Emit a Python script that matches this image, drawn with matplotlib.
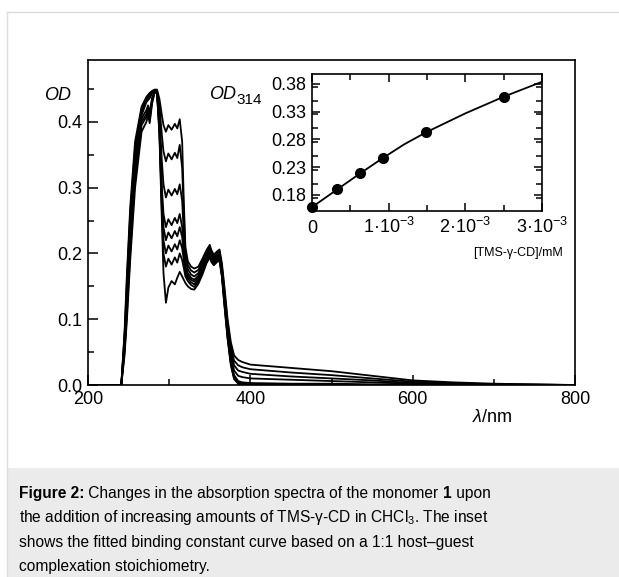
import matplotlib
matplotlib.use('Agg')
import matplotlib.pyplot as plt
from matplotlib.patches import Rectangle
from matplotlib.lines import Line2D
from matplotlib.ticker import MultipleLocator

plt.rcParams['font.family'] = 'Liberation Sans'
plt.rcParams['mathtext.fontset'] = 'custom'
plt.rcParams['mathtext.rm'] = 'Liberation Sans'
plt.rcParams['mathtext.it'] = 'Liberation Sans:italic'
plt.rcParams['mathtext.bf'] = 'Liberation Sans:bold'
plt.rcParams['mathtext.default'] = 'regular'

#%%
# --> Data
wavelength = [200, 241, 245, 248, 252, 258, 266, 272, 274, 276, 279, 282, 285, 288, 291,
              293, 296, 299, 303, 307, 310, 313, 316, 318, 320, 323, 327, 331, 336, 341,
              346, 350, 352, 355, 359, 362, 365, 368, 372, 376, 380, 385, 390, 400, 450,
              500, 550, 600, 650, 700, 800]

od_a = [0, 0, 0.08, 0.17, 0.27, 0.37, 0.423, 0.438, 0.441, 0.444, 0.447, 0.449, 0.449, 0.435, 0.41,
        0.395, 0.385, 0.395, 0.388, 0.397, 0.39, 0.404, 0.37, 0.28, 0.21, 0.188, 0.18, 0.177, 0.18, 0.192,
        0.205, 0.213, 0.205, 0.198, 0.203, 0.206, 0.185, 0.15, 0.1, 0.065, 0.045, 0.038, 0.035, 0.031, 0.026,
        0.021, 0.014, 0.007, 0.004, 0.002, 0.0]
od_b = [0, 0, 0.075, 0.16, 0.26, 0.362, 0.42, 0.436, 0.439, 0.442, 0.446, 0.448, 0.448, 0.425, 0.38,
        0.355, 0.34, 0.352, 0.343, 0.353, 0.345, 0.365, 0.33, 0.26, 0.2, 0.182, 0.174, 0.171, 0.175, 0.188,
        0.202, 0.21, 0.202, 0.195, 0.2, 0.203, 0.18, 0.145, 0.093, 0.058, 0.037, 0.03, 0.027, 0.024, 0.019,
        0.015, 0.01, 0.005, 0.003, 0.001, 0]
od_c = [0, 0, 0.07, 0.15, 0.25, 0.355, 0.416, 0.433, 0.437, 0.44, 0.445, 0.447, 0.447, 0.41, 0.34,
        0.305, 0.285, 0.297, 0.288, 0.298, 0.29, 0.305, 0.28, 0.23, 0.19, 0.176, 0.168, 0.165, 0.17, 0.184,
        0.199, 0.207, 0.199, 0.192, 0.197, 0.2, 0.176, 0.14, 0.087, 0.05, 0.03, 0.022, 0.02, 0.017, 0.013,
        0.01, 0.007, 0.003, 0.002, 0.001, 0]
od_d = [0, 0, 0.065, 0.14, 0.24, 0.345, 0.41, 0.43, 0.433, 0.436, 0.443, 0.447, 0.446, 0.4, 0.3,
        0.26, 0.24, 0.252, 0.243, 0.254, 0.246, 0.26, 0.24, 0.21, 0.18, 0.17, 0.163, 0.16, 0.166, 0.18,
        0.196, 0.204, 0.196, 0.19, 0.195, 0.197, 0.173, 0.135, 0.082, 0.044, 0.022, 0.014, 0.012, 0.01, 0.008,
        0.006, 0.004, 0.002, 0.001, 0, 0]
od_e = [0, 0, 0.06, 0.13, 0.228, 0.335, 0.405, 0.418, 0.425, 0.414, 0.437, 0.446, 0.446, 0.395, 0.285,
        0.24, 0.22, 0.232, 0.223, 0.234, 0.226, 0.24, 0.225, 0.2, 0.175, 0.166, 0.16, 0.157, 0.163, 0.177,
        0.193, 0.201, 0.193, 0.188, 0.193, 0.195, 0.17, 0.13, 0.078, 0.038, 0.015, 0.006, 0.004, 0.003, 0.002,
        0.002, 0.001, 0.001, 0, 0, 0]
od_f = [0, 0, 0.055, 0.12, 0.215, 0.325, 0.4, 0.412, 0.42, 0.408, 0.434, 0.445, 0.445, 0.39, 0.275,
        0.22, 0.2, 0.212, 0.203, 0.214, 0.206, 0.22, 0.208, 0.19, 0.17, 0.162, 0.156, 0.153, 0.16, 0.174,
        0.19, 0.198, 0.191, 0.186, 0.191, 0.193, 0.168, 0.127, 0.075, 0.035, 0.012, 0.004, 0.002, 0.001, 0,
        0, 0, 0, 0, 0, 0]
od_g = [0, 0, 0.05, 0.11, 0.2, 0.315, 0.395, 0.408, 0.415, 0.403, 0.431, 0.445, 0.445, 0.385, 0.265,
        0.2, 0.18, 0.192, 0.183, 0.194, 0.186, 0.2, 0.19, 0.178, 0.165, 0.158, 0.152, 0.149, 0.157, 0.171,
        0.187, 0.196, 0.189, 0.184, 0.189, 0.191, 0.166, 0.124, 0.072, 0.032, 0.01, 0.003, 0.001, 0, 0,
        0, 0, 0, 0, 0, 0]
od_h = [0, 0, 0.045, 0.1, 0.19, 0.3, 0.385, 0.4, 0.41, 0.398, 0.428, 0.444, 0.444, 0.38, 0.25,
        0.17, 0.125, 0.148, 0.158, 0.153, 0.163, 0.172, 0.165, 0.16, 0.155, 0.15, 0.146, 0.145, 0.154, 0.168,
        0.185, 0.194, 0.187, 0.182, 0.187, 0.189, 0.164, 0.122, 0.07, 0.03, 0.009, 0.002, 0, 0, 0,
        0, 0, 0, 0, 0, 0]
spectra = [od_a, od_b, od_c, od_d, od_e, od_f, od_g, od_h]

# inset: titration points and fitted curve
conc = [0, 0.33e-3, 0.63e-3, 0.93e-3, 1.49e-3, 2.50e-3]
od314 = [0.158, 0.190, 0.219, 0.247, 0.293, 0.357]
fit_conc = [0, 0.33e-3, 0.63e-3, 0.93e-3, 1.2e-3, 1.49e-3, 2.0e-3, 2.5e-3, 3.0e-3]
fit_od = [0.158, 0.190, 0.219, 0.247, 0.271, 0.293, 0.327, 0.357, 0.384]

inset_xticks = [0, 1e-3, 2e-3, 3e-3]
inset_xlabels = ['0', '1·10$^{-3}$', '2·10$^{-3}$', '3·10$^{-3}$']
inset_yticks = [0.18, 0.23, 0.28, 0.33, 0.38]

caption = [
    [("Figure 2:", 'bold'), (" Changes in the absorption spectra of the monomer ", 'normal'),
     ("1", 'bold'), (" upon", 'normal')],
    [("the addition of increasing amounts of TMS-γ-CD in CHCl$_3$. The inset", 'normal')],
    [("shows the fitted binding constant curve based on a 1:1 host–guest", 'normal')],
    [("complexation stoichiometry.", 'normal')],
]

#%%
# --> Figure
W, H = 619, 577
fig = plt.figure(figsize=(W / 100, H / 100), dpi=100)

# page frame and caption box
fig.add_artist(Rectangle((7 / W, 0), 1, (H - 468) / H, transform=fig.transFigure,
                         facecolor='#ebebeb', edgecolor='none'))
fig.add_artist(Line2D([7 / W, 1], [1 - 12 / H, 1 - 12 / H], transform=fig.transFigure,
                      color='#dcdcdc', lw=1))
fig.add_artist(Line2D([7 / W, 7 / W], [0, 1 - 12 / H], transform=fig.transFigure,
                      color='#dcdcdc', lw=1))

# main spectra
ax = fig.add_axes([88 / W, 1 - 385 / H, (575 - 88) / W, (385 - 60) / H])
for od in spectra:
    ax.plot(wavelength, od, color='black', lw=1.3)
ax.set_xlim(200, 800)
ax.set_ylim(0, 0.494)
ax.xaxis.set_major_locator(MultipleLocator(200))
ax.xaxis.set_minor_locator(MultipleLocator(100))
ax.set_yticks([0, 0.1, 0.2, 0.3, 0.4])
ax.set_yticklabels(['0.0', '0.1', '0.2', '0.3', '0.4'])
ax.yaxis.set_minor_locator(MultipleLocator(0.05))
ax.tick_params(which='both', direction='in', labelsize=13, width=1.1)
ax.tick_params(which='major', length=7)
ax.tick_params(which='minor', length=4.5)
ax.tick_params(axis='x', pad=4)
ax.tick_params(axis='y', pad=4)
for sp in ax.spines.values():
    sp.set_linewidth(1.2)

fig.text(71 / W, 1 - 96 / H, 'OD', fontsize=13, style='italic', ha='right', va='center')
fig.text(492 / W, 1 - 418 / H, r'$\mathit{\lambda}$/nm', fontsize=13, ha='center', va='center')

# inset
axi = fig.add_axes([312 / W, 1 - 211 / H, (542 - 312) / W, (211 - 74) / H])
axi.plot(fit_conc, fit_od, color='black', lw=1.3)
axi.plot(conc, od314, 'o', color='black', ms=7, clip_on=False, zorder=5)
axi.set_xlim(0, 3e-3)
axi.set_ylim(0.151, 0.398)
axi.set_xticks(inset_xticks)
axi.set_xticklabels(inset_xlabels)
axi.xaxis.set_minor_locator(MultipleLocator(0.5e-3))
axi.set_yticks(inset_yticks)
axi.set_yticklabels([f'{v:.2f}' for v in inset_yticks])
axi.yaxis.set_minor_locator(MultipleLocator(0.025))
axi.tick_params(which='both', direction='in', top=True, right=True, labelsize=13, width=1.1)
axi.tick_params(which='major', length=6)
axi.tick_params(which='minor', length=4)
axi.tick_params(axis='y', pad=4)
axi.tick_params(axis='x', pad=16)
for lab in axi.get_xticklabels():
    lab.set_verticalalignment('baseline')
for sp in axi.spines.values():
    sp.set_linewidth(1.2)

fig.text(236 / W, 1 - 99 / H, 'OD', fontsize=13, style='italic', ha='right', va='baseline')
fig.text(236 / W, 1 - 104 / H, '314', fontsize=11, ha='left', va='baseline')
fig.text(563 / W, 1 - 253 / H, '[TMS-γ-CD]/mM', fontsize=9, ha='right', va='center')

# caption
renderer = fig.canvas.get_renderer()
for i, line in enumerate(caption):
    x = 19
    y = 1 - (498 + i * 24.3) / H
    for text, weight in line:
        t = fig.text(x / W, y, text, fontsize=11.2, fontweight=weight, ha='left', va='baseline')
        x += t.get_window_extent(renderer).width

fig.savefig('out.png', dpi=100)
